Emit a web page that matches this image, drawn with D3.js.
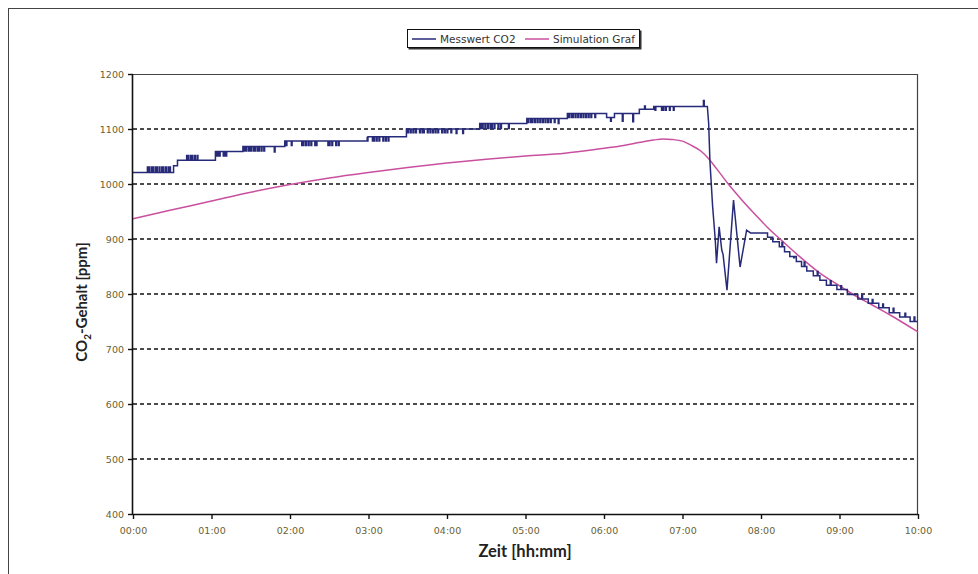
<!DOCTYPE html>
<html>
<head>
<meta charset="utf-8">
<script src="https://cdn.jsdelivr.net/npm/d3@7"></script>
<style>
  body { margin: 0; background: #fff; }
  svg { display: block; }
</style>
</head>
<body>
<div id="chart_wrapper"></div>
<script>
// x values in minutes after 00:00, y values in ppm
var yTicks = [400, 500, 600, 700, 800, 900, 1000, 1100, 1200];
var xTicks = [0, 60, 120, 180, 240, 300, 360, 420, 480, 540, 600];
var xTickLabels = ["00:00", "01:00", "02:00", "03:00", "04:00", "05:00", "06:00", "07:00", "08:00", "09:00", "10:00"];
var seriesNames = ["Messwert CO2", "Simulation Graf"];

// Messwert: step levels before the drop [start minute, ppm]
var messRise = [[0, 1021], [31, 1033], [34, 1043], [63, 1059], [84, 1068], [116, 1078],
  [179, 1086], [209, 1100], [265, 1110], [301, 1119], [332, 1128], [362, 1121], [368, 1128],
  [387, 1136], [398, 1141]];
// short flicker between neighbouring levels [minute, ppm]
var messSpikes = [[11, 1031], [12, 1031], [14, 1031], [15, 1031], [17, 1031], [18, 1031], [20, 1031],
  [22, 1031], [23, 1031], [25, 1031], [27, 1031], [28, 1031],
  [41, 1052], [42, 1052], [44, 1052], [45, 1052], [47, 1052], [49, 1052],
  [64, 1051], [65, 1051], [66, 1051], [69, 1051], [70, 1051], [71, 1051],
  [85, 1060], [86, 1060], [88, 1060], [89, 1060], [90, 1060], [92, 1060], [93, 1060], [95, 1060],
  [96, 1060], [98, 1060], [100, 1060], [108, 1058],
  [117, 1070], [121, 1070], [129, 1070], [130, 1070], [132, 1070], [134, 1070], [136, 1070],
  [139, 1070], [140, 1070], [149, 1070], [150, 1070], [152, 1070], [155, 1070], [157, 1070],
  [179, 1078], [183, 1078], [184, 1078], [186, 1078], [188, 1078], [191, 1078], [193, 1078], [195, 1078],
  [210, 1093], [212, 1093], [214, 1093], [216, 1093], [219, 1093], [221, 1093], [222, 1093],
  [225, 1093], [227, 1093], [229, 1093], [231, 1093], [233, 1093], [236, 1093], [238, 1093],
  [240, 1093], [243, 1093], [247, 1092], [252, 1092],
  [266, 1101], [267, 1101], [269, 1101], [271, 1101], [273, 1101], [274, 1101], [276, 1101],
  [279, 1101], [281, 1101], [287, 1101],
  [302, 1112], [304, 1112], [305, 1112], [307, 1112], [309, 1112], [311, 1112], [313, 1112],
  [315, 1112], [317, 1112], [319, 1112], [322, 1112], [325, 1110],
  [333, 1121], [335, 1121], [336, 1121], [338, 1121], [340, 1121], [342, 1121], [344, 1121],
  [346, 1121], [348, 1121], [350, 1121], [353, 1121], [365, 1114], [374, 1114], [382, 1113],
  [391, 1142], [399, 1134], [404, 1134], [405, 1134], [407, 1134], [410, 1134], [413, 1134],
  [436, 1152]];
// drop and oscillation after 07:19
var messDrop = [[439, 1142], [440, 1110], [441, 1040], [443, 960], [445, 900], [446, 856],
  [448, 922], [450, 880], [451, 872], [454, 807], [459, 971], [464, 849], [469, 916], [472, 911]];
// step levels while falling
var messFall = [[472, 911], [485, 903], [489, 895], [494, 886], [498, 877], [502, 868], [507, 859],
  [511, 850], [515, 842], [520, 833], [525, 825], [530, 816], [538, 808], [546, 799], [554, 791],
  [562, 783], [570, 775], [578, 766], [586, 758], [594, 750]];
var messFallSpikes = [[476, 918], [480, 904], [496, 894], [505, 866], [513, 858], [523, 841],
  [533, 824], [541, 815], [557, 798], [565, 790], [573, 782], [581, 774], [590, 765], [597, 758]];

// Simulation Graf
var simTimes = [0, 30, 60, 90, 120, 150, 180, 210, 240, 270, 300, 330, 357, 375, 388, 398, 405, 412,
  420, 426, 434, 440, 446, 455, 465, 475, 485, 495, 510, 525, 540, 550, 565, 580, 600];
var simValues = [937, 953, 969, 985, 999, 1011, 1021, 1030, 1038, 1045, 1051, 1056, 1064, 1070, 1076,
  1080, 1082, 1081, 1078, 1071, 1060, 1046, 1028, 1000, 972, 946, 921, 899, 867, 838, 815, 800,
  780, 760, 731];

var wrapperWidth = 978, wrapperHeight = 574;
var margin = { left: 133, right: 60, top: 74, bottom: 60 };
var width = wrapperWidth - margin.left - margin.right;
var height = wrapperHeight - margin.top - margin.bottom;

var svgRoot = d3.select("#chart_wrapper").append("svg")
    .attr("width", wrapperWidth).attr("height", wrapperHeight);

// outer chart frame
svgRoot.append("rect")
    .attr("x", 8.5).attr("y", 8.5).attr("width", 990).attr("height", 600)
    .attr("fill", "none").attr("stroke", "#444").attr("stroke-width", 1);

var svg = svgRoot.append("g")
    .attr("transform", "translate(" + margin.left + "," + margin.top + ")");

var x = d3.scaleLinear().domain([0, 600]).range([0, width]);
var y = d3.scaleLinear().domain([400, 1200]).range([height, 0]);

// dashed grid
svg.append("g").selectAll("line")
    .data(yTicks.filter(function(d) { return d > 400 && d < 1200; }))
    .enter().append("line")
      .attr("x1", 0).attr("x2", width)
      .attr("y1", function(d) { return y(d); })
      .attr("y2", function(d) { return y(d); })
      .attr("stroke", "#111").attr("stroke-width", 1.5)
      .attr("stroke-dasharray", "4,3");

// plot area top / right border
svg.append("path")
    .attr("d", "M0,0.5H" + (width - 0.5) + "V" + height)
    .attr("fill", "none").attr("stroke", "#444").attr("stroke-width", 1.2);

// series
function pushSteps(steps, spikes, endTime, pts) {
  steps.forEach(function(s, i) {
    var end = i < steps.length - 1 ? steps[i + 1][0] : endTime;
    if (pts.length) pts.push([s[0], pts[pts.length - 1][1]]);
    pts.push([s[0], s[1]]);
    spikes.filter(function(k) { return k[0] >= s[0] && k[0] < end; }).forEach(function(k) {
      pts.push([k[0], s[1]], [k[0], k[1]], [k[0] + 0.6, k[1]], [k[0] + 0.6, s[1]]);
    });
  });
  pts.push([endTime, pts[pts.length - 1][1]]);
}

var messPts = [];
pushSteps(messRise, messSpikes, messDrop[0][0], messPts);
messPts = messPts.concat(messDrop.slice(1));
var tail = [];
pushSteps(messFall.slice(1), messFallSpikes, 600, tail);
messPts.push([messFall[1][0], messFall[0][1]]);
messPts = messPts.concat(tail);

var simPts = simTimes.map(function(t, i) { return [t, simValues[i]]; });

var line = d3.line()
    .x(function(d) { return x(d[0]); })
    .y(function(d) { return y(d[1]); });

svg.append("path")
    .datum(simPts)
    .attr("fill", "none").attr("stroke", "#c9509f").attr("stroke-width", 1.5)
    .attr("d", line.curve(d3.curveMonotoneX));

svg.append("path")
    .datum(messPts)
    .attr("fill", "none").attr("stroke", "#272a78").attr("stroke-width", 1.5)
    .attr("stroke-linejoin", "miter")
    .attr("d", line.curve(d3.curveLinear));

// axes
var yAxis = svg.append("g")
    .call(d3.axisLeft(y).tickValues(yTicks).tickSize(5).tickPadding(4).tickFormat(d3.format("d")));
var xAxis = svg.append("g")
    .attr("transform", "translate(0," + height + ")")
    .call(d3.axisBottom(x).tickValues(xTicks).tickSize(5).tickPadding(8)
      .tickFormat(function(d, i) { return xTickLabels[i]; }));

[yAxis, xAxis].forEach(function(a) {
  a.select(".domain").attr("stroke", "#111").attr("stroke-width", 1.6);
  a.selectAll(".tick line").attr("stroke", "#111").attr("stroke-width", 1.4);
  a.selectAll(".tick text")
      .attr("fill", "#6b5f33")
      .style("font-family", "'DejaVu Sans', Verdana, sans-serif")
      .style("font-size", "9.5px");
});
yAxis.select(".domain").attr("d", "M-0.5," + height + "V0");
xAxis.select(".domain").attr("d", "M0,0.5H" + width);

// axis titles
svgRoot.append("text")
    .attr("x", 525).attr("y", 557)
    .attr("text-anchor", "middle")
    .style("font-family", "Lato, 'Open Sans', sans-serif")
    .style("font-weight", "bold").style("font-size", "16.5px").attr("fill", "#222")
    .text("Zeit [hh:mm]");

var yTitle = svgRoot.append("text")
    .attr("transform", "translate(87,302) rotate(-90)")
    .attr("text-anchor", "middle")
    .style("font-family", "Lato, 'Open Sans', sans-serif")
    .style("font-weight", "bold").style("font-size", "15px").attr("fill", "#222");
yTitle.append("tspan").text("CO");
yTitle.append("tspan").attr("dy", 4).style("font-size", "10px").text("2");
yTitle.append("tspan").attr("dy", -4).text("-Gehalt [ppm]");

// legend
var legend = svgRoot.append("g").attr("transform", "translate(407,29)");
legend.append("rect").attr("x", 1.5).attr("y", 1.5).attr("width", 233).attr("height", 19)
    .attr("fill", "#333");
legend.append("rect").attr("x", 0.5).attr("y", 0.5).attr("width", 232).attr("height", 18)
    .attr("fill", "#fff").attr("stroke", "#111").attr("stroke-width", 1);
var legendColors = ["#272a78", "#c9509f"];
var legendX = [5, 118];
seriesNames.forEach(function(name, i) {
  legend.append("line")
      .attr("x1", legendX[i]).attr("x2", legendX[i] + 24)
      .attr("y1", 10).attr("y2", 10)
      .attr("stroke", legendColors[i]).attr("stroke-width", 1.5);
  legend.append("text")
      .attr("x", legendX[i] + 28).attr("y", 13.5)
      .style("font-family", "'DejaVu Sans', Verdana, sans-serif")
      .style("font-size", "10.5px").attr("fill", "#333")
      .text(name);
});
</script>
</body>
</html>
